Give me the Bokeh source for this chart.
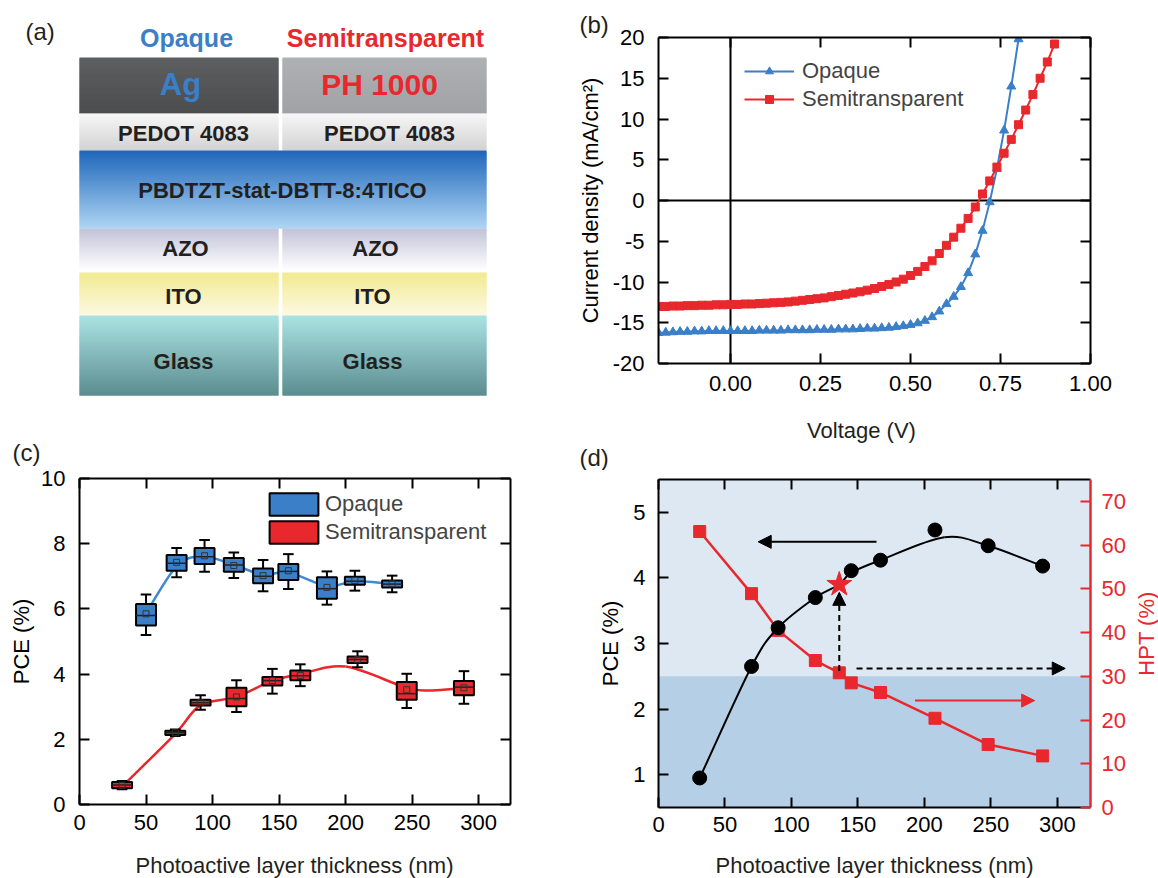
import numpy as np
from bokeh.plotting import figure
from bokeh.models import (Range1d, LinearAxis, FixedTicker, Span, Arrow, NormalHead,
                          BoxAnnotation, ColumnDataSource, PrintfTickFormatter)
from bokeh.layouts import column, row
from bokeh.embed import file_html
from bokeh.resources import INLINE
from bokeh.core.properties import value

FONT = "Liberation Sans"
BLUE = "#3a7fc8"
BLUE_LINE = "#3d8ad2"
RED = "#e8282d"
DARK = "#231f20"

# ---------------- (a) device schematic -----------------
stack_labels = ["Opaque", "Semitransparent", "Ag", "PH 1000", "PEDOT 4083", "PEDOT 4083",
                "PBDTZT-stat-DBTT-8:4TICO", "AZO", "AZO", "ITO", "ITO", "Glass", "Glass"]

# ---------------- (b) J-V data -----------------
v_op = [-0.20, -0.18, -0.16, -0.14, -0.12, -0.10, -0.08, -0.06, -0.04, -0.02, 0.00, 0.02, 0.04,
        0.06, 0.08, 0.10, 0.12, 0.14, 0.16, 0.18, 0.20, 0.22, 0.24, 0.26, 0.28, 0.30, 0.32, 0.34,
        0.36, 0.38, 0.40, 0.42, 0.44, 0.46, 0.48, 0.50, 0.52, 0.54, 0.56, 0.58, 0.60, 0.62, 0.64,
        0.66, 0.68, 0.70, 0.72, 0.74, 0.76, 0.78, 0.80]
j_op = [-16.25, -16.2, -16.15, -16.1, -16.1, -16.05, -16.05, -16.0, -16.0, -16.0, -16.0, -16.0,
        -16.0, -16.0, -15.95, -15.95, -15.95, -15.95, -15.9, -15.9, -15.9, -15.9, -15.85, -15.85,
        -15.85, -15.8, -15.8, -15.8, -15.75, -15.7, -15.7, -15.65, -15.6, -15.5, -15.4, -15.25,
        -15.05, -14.75, -14.3, -13.6, -12.7, -11.8, -10.6, -8.9, -6.6, -3.7, -0.2, 3.9, 8.6,
        14.0, 19.8]
v_st = [-0.20, -0.18, -0.16, -0.14, -0.12, -0.10, -0.08, -0.06, -0.04, -0.02, 0.00, 0.02, 0.04,
        0.06, 0.08, 0.10, 0.12, 0.14, 0.16, 0.18, 0.20, 0.22, 0.24, 0.26, 0.28, 0.30, 0.32, 0.34,
        0.36, 0.38, 0.40, 0.42, 0.44, 0.46, 0.48, 0.50, 0.52, 0.54, 0.56, 0.58, 0.60, 0.62, 0.64,
        0.66, 0.68, 0.70, 0.72, 0.74, 0.76, 0.78, 0.80, 0.82, 0.84, 0.86, 0.88, 0.90]
j_st = [-13.0, -13.0, -12.95, -12.95, -12.9, -12.9, -12.85, -12.85, -12.8, -12.8, -12.75, -12.75,
        -12.7, -12.7, -12.65, -12.6, -12.55, -12.5, -12.45, -12.35, -12.25, -12.15, -12.05, -11.95,
        -11.8, -11.65, -11.5, -11.35, -11.2, -11.0, -10.8, -10.55, -10.3, -10.0, -9.65, -9.2,
        -8.7, -8.1, -7.4, -6.5, -5.5, -4.5, -3.4, -2.2, -0.8, 0.8, 2.4, 4.1, 5.8, 7.5, 9.3,
        11.1, 13.0, 15.0, 17.0, 19.2]
v_ticks = [0.0, 0.25, 0.5, 0.75, 1.0]
j_ticks = [-20, -15, -10, -5, 0, 5, 10, 15, 20]

# ---------------- (c) PCE box plots -----------------
x_op = [50, 73, 94, 116, 138, 157, 186, 207, 235]
op_hi = [6.44, 7.87, 8.11, 7.73, 7.5, 7.68, 7.15, 7.17, 7.02]
op_q3 = [6.15, 7.65, 7.87, 7.56, 7.24, 7.38, 6.97, 6.99, 6.87]
op_med = [5.8, 7.4, 7.6, 7.35, 7.0, 7.15, 6.62, 6.85, 6.76]
op_q1 = [5.49, 7.17, 7.38, 7.14, 6.79, 6.89, 6.31, 6.74, 6.66]
op_lo = [5.2, 6.97, 7.14, 6.95, 6.54, 6.61, 6.13, 6.56, 6.51]
op_mean = [5.85, 7.43, 7.63, 7.33, 7.02, 7.17, 6.66, 6.87, 6.77]
op_fit_x = [51, 74, 94, 116, 138, 157, 186, 207, 235]
op_fit_y = [5.95, 7.35, 7.6, 7.35, 7.05, 7.12, 6.7, 6.85, 6.77]

x_st = [32, 72, 91, 118, 145, 166, 209, 246, 289]
st_hi = [0.72, 2.3, 3.35, 3.81, 4.16, 4.3, 4.7, 4.01, 4.09]
st_q3 = [0.69, 2.26, 3.21, 3.58, 3.91, 4.11, 4.54, 3.76, 3.79]
st_med = [0.6, 2.2, 3.12, 3.25, 3.8, 3.95, 4.45, 3.4, 3.6]
st_q1 = [0.5, 2.13, 3.04, 3.01, 3.65, 3.81, 4.34, 3.21, 3.35]
st_lo = [0.47, 2.1, 2.91, 2.84, 3.4, 3.63, 4.21, 2.96, 3.09]
st_mean = [0.59, 2.2, 3.12, 3.3, 3.8, 3.96, 4.44, 3.52, 3.58]
st_fit_x = [32, 72, 91, 118, 145, 166, 200, 246, 265, 289]
st_fit_y = [0.55, 2.17, 3.05, 3.3, 3.8, 4.0, 4.23, 3.58, 3.5, 3.57]
thick_ticks = [0, 50, 100, 150, 200, 250, 300]
pce_ticks_c = [0, 2, 4, 6, 8, 10]

# ---------------- (d) PCE & HPT -----------------
x_pce = [31, 70, 90, 118, 145, 167, 208, 248, 289]
pce = [0.95, 2.65, 3.24, 3.70, 4.11, 4.27, 4.73, 4.49, 4.18]
pce_fit_x = [31, 70, 90, 118, 136, 145, 167, 215, 248, 289]
pce_fit_y = [0.95, 2.65, 3.24, 3.70, 3.90, 4.08, 4.27, 4.62, 4.49, 4.18]
x_hpt = [31, 70, 90, 118, 136, 145, 167, 208, 248, 289]
hpt = [63.1, 48.9, 40.5, 33.6, 30.8, 28.5, 26.3, 20.4, 14.4, 11.8]
star_x = [136]
star_pce = [3.9]
hpt_threshold = 30
pce_ticks_d = [1, 2, 3, 4, 5]
hpt_ticks = [0, 10, 20, 30, 40, 50, 60, 70]

X_TITLE = "Photoactive layer thickness (nm)"


def style_axis(ax, color="black", lw=2):
    ax.axis_line_width = lw
    ax.axis_line_color = color
    ax.major_tick_in = 10
    ax.major_tick_out = 0
    ax.major_tick_line_width = 2
    ax.major_tick_line_color = color
    ax.minor_tick_line_color = None
    ax.major_label_text_font = FONT
    ax.major_label_text_font_size = "22px"
    ax.major_label_text_color = color
    ax.axis_label_text_font = FONT
    ax.axis_label_text_font_size = "22px"
    ax.axis_label_text_font_style = "normal"
    ax.axis_label_text_color = color


def mirror(p, side, ticks):
    # mirrored tick marks drawn as minor ticks so that no labels are produced
    ax = LinearAxis(ticker=FixedTicker(ticks=[], minor_ticks=ticks))
    ax.axis_line_width = 2
    ax.axis_line_color = "black"
    ax.major_tick_line_color = None
    ax.minor_tick_in = 10
    ax.minor_tick_out = 0
    ax.minor_tick_line_width = 2
    ax.minor_tick_line_color = "black"
    ax.major_label_standoff = 0
    p.add_layout(ax, side)


def catmull(xs, ys):
    xs = np.asarray(xs, float)
    ys = np.asarray(ys, float)
    mx = np.empty_like(xs)
    my = np.empty_like(ys)
    mx[1:-1] = (xs[2:] - xs[:-2]) / 2
    my[1:-1] = (ys[2:] - ys[:-2]) / 2
    mx[0], my[0] = xs[1] - xs[0], ys[1] - ys[0]
    mx[-1], my[-1] = xs[-1] - xs[-2], ys[-1] - ys[-2]
    return dict(x0=xs[:-1], y0=ys[:-1], x1=xs[1:], y1=ys[1:],
                cx0=xs[:-1] + mx[:-1] / 3, cy0=ys[:-1] + my[:-1] / 3,
                cx1=xs[1:] - mx[1:] / 3, cy1=ys[1:] - my[1:] / 3)


def free(p):
    try:
        p.frame_align = False
    except Exception:
        pass


def blank(w, h, flip=False):
    f = figure(width=w, height=h, x_range=Range1d(0, w),
               y_range=Range1d(h, 0) if flip else Range1d(0, h),
               x_axis_type=None, y_axis_type=None, min_border=0, output_backend="svg",
               toolbar_location=None)
    f.outline_line_color = None
    f.grid.visible = False
    free(f)
    return f


def put_text(f, xs, ys, texts, sizes, aligns, colors=None, angle=0.0, bold=False):
    src = ColumnDataSource(dict(x=xs, y=ys, t=texts, s=sizes, a=aligns,
                                c=colors if colors else [DARK] * len(xs)))
    f.text(x="x", y="y", text="t", source=src, text_font=value(FONT), text_font_size="s",
           text_align="a", text_color="c", text_baseline="middle", angle=angle,
           text_font_style="bold" if bold else "normal")


# ================= panel (a) (also carries the "(c)" tag) =================
pa = blank(560, 466, flip=True)


def hex2rgb(h):
    h = h.lstrip("#")
    return np.array([int(h[i:i + 2], 16) for i in (0, 2, 4)], float)


def gradient(p, x0, x1, y0, y1, c0, c1):
    n = int(round(y1 - y0))
    a, b = hex2rgb(c0), hex2rgb(c1)
    t = (np.arange(n) + 0.5) / n
    cols = ["#%02x%02x%02x" % tuple(np.round(a + (b - a) * ti).astype(int)) for ti in t]
    step = (y1 - y0) / n
    tops = y0 + np.arange(n) * step
    bots = np.minimum(tops + step + 1.0, y1)
    p.quad(left=[x0] * n, right=[x1] * n, top=list(tops), bottom=list(bots),
           fill_color=cols, line_color=None)


L, R = (79, 278), (282, 486)
gradient(pa, *L, 57, 113, "#5d5f61", "#4b4d4f")
gradient(pa, *R, 57, 113, "#aeb0b3", "#a0a2a5")
for c in (L, R):
    gradient(pa, *c, 113, 150, "#f7f7f7", "#d2d2d2")
gradient(pa, 79, 486, 150, 228, "#1f66ba", "#aed5f4")
for c in (L, R):
    gradient(pa, *c, 228, 270, "#c2c2d8", "#ffffff")
    gradient(pa, *c, 272, 315, "#f2ea90", "#fcf9e2")
    gradient(pa, *c, 315, 395, "#abe3e3", "#5b8d8f")

put_text(pa, [186, 385, 180, 379, 183, 389, 282, 185, 375, 183, 372, 183, 372],
         [37, 37, 84, 84, 133, 133, 190, 248, 248, 296, 296, 361, 361],
         stack_labels, ["25px", "25px", "31px", "30px"] + ["22px"] * 9, ["center"] * 13,
         colors=[BLUE, RED, BLUE, RED] + [DARK] * 9, bold=True)
put_text(pa, [25, 12], [31, 452], ["(a)", "(c)"], ["24px", "24px"], ["left", "left"])

# ================= panel (b) =================
pb = figure(width=598, height=405, x_range=Range1d(-0.2, 1.0), y_range=Range1d(-20, 20),
            min_border_left=98, min_border_right=68, min_border_top=37, min_border_bottom=42,
            output_backend="svg", toolbar_location=None)
free(pb)
pb.outline_line_color = None
pb.grid.visible = False
pb.xaxis.ticker = FixedTicker(ticks=v_ticks)
pb.xaxis.formatter = PrintfTickFormatter(format="%.2f")
pb.yaxis.ticker = FixedTicker(ticks=j_ticks)
pb.yaxis.formatter = PrintfTickFormatter(format="%d")
pb.yaxis.axis_label = "Current density (mA/cm²)"
for ax in pb.xaxis + pb.yaxis:
    style_axis(ax)
pb.xaxis.major_label_standoff = 12
pb.yaxis.major_label_standoff = 14
pb.yaxis.axis_label_standoff = 7
mirror(pb, "above", v_ticks)
mirror(pb, "right", j_ticks)
pb.add_layout(Span(location=0, dimension="height", line_color="black", line_width=2, level="underlay"))
pb.add_layout(Span(location=0, dimension="width", line_color="black", line_width=2, level="underlay"))
pb.line(v_op, j_op, color=BLUE, line_width=2, legend_label="Opaque")
pb.scatter(v_op, j_op, marker="triangle", size=9, color=BLUE, legend_label="Opaque")
pb.line(v_st, j_st, color=RED, line_width=2, legend_label="Semitransparent")
pb.scatter(v_st, j_st, marker="square", size=8, color=RED, legend_label="Semitransparent")
lg = pb.legend[0]
lg.location = (86, 251)
lg.border_line_color = None
lg.background_fill_alpha = 0
lg.padding = 0
lg.margin = 0
lg.spacing = 2
lg.glyph_width = 50
lg.glyph_height = 20
lg.label_standoff = 8
lg.label_text_font = FONT
lg.label_text_font_size = "22px"
pb.title.text = "(b)"
pb.title.align = "left"
pb.title.offset = -79
pb.title.standoff = 0
pb.title.text_font = FONT
pb.title.text_font_size = "24px"
pb.title.text_font_style = "normal"
pb.title.text_color = DARK

# strip under (b): x-axis title of (b) and the "(d)" tag
sb = blank(598, 65)
put_text(sb, [301, 19], [40, 13], ["Voltage (V)", "(d)"], ["22px", "24px"], ["center", "left"])

# ================= panel (c) =================
pc = figure(width=560, height=380, x_range=Range1d(0, 324), y_range=Range1d(0, 10),
            min_border_left=79, min_border_right=50, min_border_top=12, min_border_bottom=42,
            output_backend="svg", toolbar_location=None)
free(pc)
pc.outline_line_color = None
pc.grid.visible = False
pc.xaxis.ticker = FixedTicker(ticks=thick_ticks)
pc.yaxis.ticker = FixedTicker(ticks=pce_ticks_c)
pc.yaxis.axis_label = "PCE (%)"
for ax in pc.xaxis + pc.yaxis:
    style_axis(ax)
pc.xaxis.major_label_standoff = 10
pc.yaxis.major_label_standoff = 14
pc.yaxis.axis_label_standoff = 4
mirror(pc, "above", thick_ticks)
mirror(pc, "right", pce_ticks_c)

pc.bezier(**catmull(op_fit_x, op_fit_y), line_color=BLUE_LINE, line_width=2.5)
pc.bezier(**catmull(st_fit_x, st_fit_y), line_color=RED, line_width=2.5)

BOXW, CAPW = 15, 8
for xs, hi, q3, med, q1, lo, mn, col, name in [
        (x_op, op_hi, op_q3, op_med, op_q1, op_lo, op_mean, BLUE, "Opaque"),
        (x_st, st_hi, st_q3, st_med, st_q1, st_lo, st_mean, RED, "Semitransparent")]:
    xa = np.array(xs, float)
    pc.segment(x0=xa, y0=q3, x1=xa, y1=hi, line_color="black", line_width=2)
    pc.segment(x0=xa, y0=q1, x1=xa, y1=lo, line_color="black", line_width=2)
    pc.segment(x0=xa - CAPW / 2, y0=hi, x1=xa + CAPW / 2, y1=hi, line_color="black", line_width=2)
    pc.segment(x0=xa - CAPW / 2, y0=lo, x1=xa + CAPW / 2, y1=lo, line_color="black", line_width=2)
    pc.quad(left=xa - BOXW / 2, right=xa + BOXW / 2, bottom=q1, top=q3, fill_color=col,
            line_color="black", line_width=2, legend_label=name)
    pc.segment(x0=xa - BOXW / 2, y0=med, x1=xa + BOXW / 2, y1=med, line_color="#222222", line_width=1.5)
    pc.scatter(xs, mn, marker="square", size=6, fill_color=None, line_color="#333333", line_width=1)

lgc = pc.legend[0]
lgc.location = (184, 258)
lgc.border_line_color = None
lgc.background_fill_alpha = 0
lgc.padding = 0
lgc.margin = 0
lgc.spacing = 0
lgc.glyph_width = 61
lgc.glyph_height = 28
lgc.label_standoff = 1
lgc.label_height = 28
lgc.label_text_font = FONT
lgc.label_text_font_size = "22px"

sc = blank(560, 32)
put_text(sc, [294], [13], [X_TITLE], ["22px"], ["center"])

# ================= panel (d) =================
pd_ = figure(width=570, height=379, x_range=Range1d(0, 325), y_range=Range1d(0.5, 5.5),
             min_border_left=98, min_border_right=40, min_border_top=9, min_border_bottom=42,
             output_backend="svg", toolbar_location=None)
free(pd_)
pd_.outline_line_color = None
pd_.grid.visible = False
pd_.background_fill_color = "#dee8f3"
pd_.extra_y_ranges = {"hpt": Range1d(0, 75)}
pd_.add_layout(BoxAnnotation(top=hpt_threshold, y_range_name="hpt", fill_color="#b5d0e6",
                             fill_alpha=1, line_color=None, level="underlay"))
pd_.xaxis.ticker = FixedTicker(ticks=thick_ticks)
pd_.yaxis.ticker = FixedTicker(ticks=pce_ticks_d)
pd_.yaxis.axis_label = "PCE (%)"
for ax in pd_.xaxis + pd_.yaxis:
    style_axis(ax)
pd_.xaxis.major_label_standoff = 9
pd_.yaxis.major_label_standoff = 13
pd_.yaxis.axis_label_standoff = 7
mirror(pd_, "above", thick_ticks)
rax = LinearAxis(y_range_name="hpt", ticker=FixedTicker(ticks=hpt_ticks))
style_axis(rax, color=RED, lw=2.5)
rax.major_label_standoff = 11
pd_.add_layout(rax, "right")

# arrows (x_start, y_start, x_end, y_end) in PCE units
arrows = [
    dict(x_start=164, y_start=4.55, x_end=75, y_end=4.55, color="black", dash="solid"),
    dict(x_start=193, y_start=2.13, x_end=283, y_end=2.13, color=RED, dash="solid"),
    dict(x_start=136, y_start=2.58, x_end=136, y_end=3.78, color="black", dash="6 4"),
    dict(x_start=149, y_start=2.62, x_end=306, y_end=2.62, color="black", dash="6 4"),
]
for a in arrows:
    pd_.add_layout(Arrow(x_start=a["x_start"], y_start=a["y_start"], x_end=a["x_end"], y_end=a["y_end"],
                         line_color=a["color"], line_width=2, line_dash=a["dash"],
                         end=NormalHead(size=13, fill_color=a["color"], line_color=a["color"])))

pd_.line(x_hpt, hpt, y_range_name="hpt", line_color=RED, line_width=2.5)
pd_.scatter(x_hpt, hpt, y_range_name="hpt", marker="square", size=12, color=RED)
pd_.bezier(**catmull(pce_fit_x, pce_fit_y), line_color="black", line_width=2)
pd_.scatter(x_pce, pce, marker="circle", size=14, color="black")
pd_.scatter(star_x, star_pce, marker="star", size=26, color=RED)

# strip on the right carrying the HPT axis title (reads bottom-to-top as in the original)
ph = blank(28, 379)
put_text(ph, [16], [216], ["HPT (%)"], ["22px"], ["center"], colors=[RED], angle=np.pi / 2)

sd = blank(598, 29)
put_text(sd, [314], [13], [X_TITLE], ["22px"], ["center"])

layout = row(column(pa, pc, sc, spacing=0),
             column(pb, sb, row(pd_, ph, spacing=0), sd, spacing=0), spacing=0)
open("out.html", "w").write(file_html(layout, INLINE))
